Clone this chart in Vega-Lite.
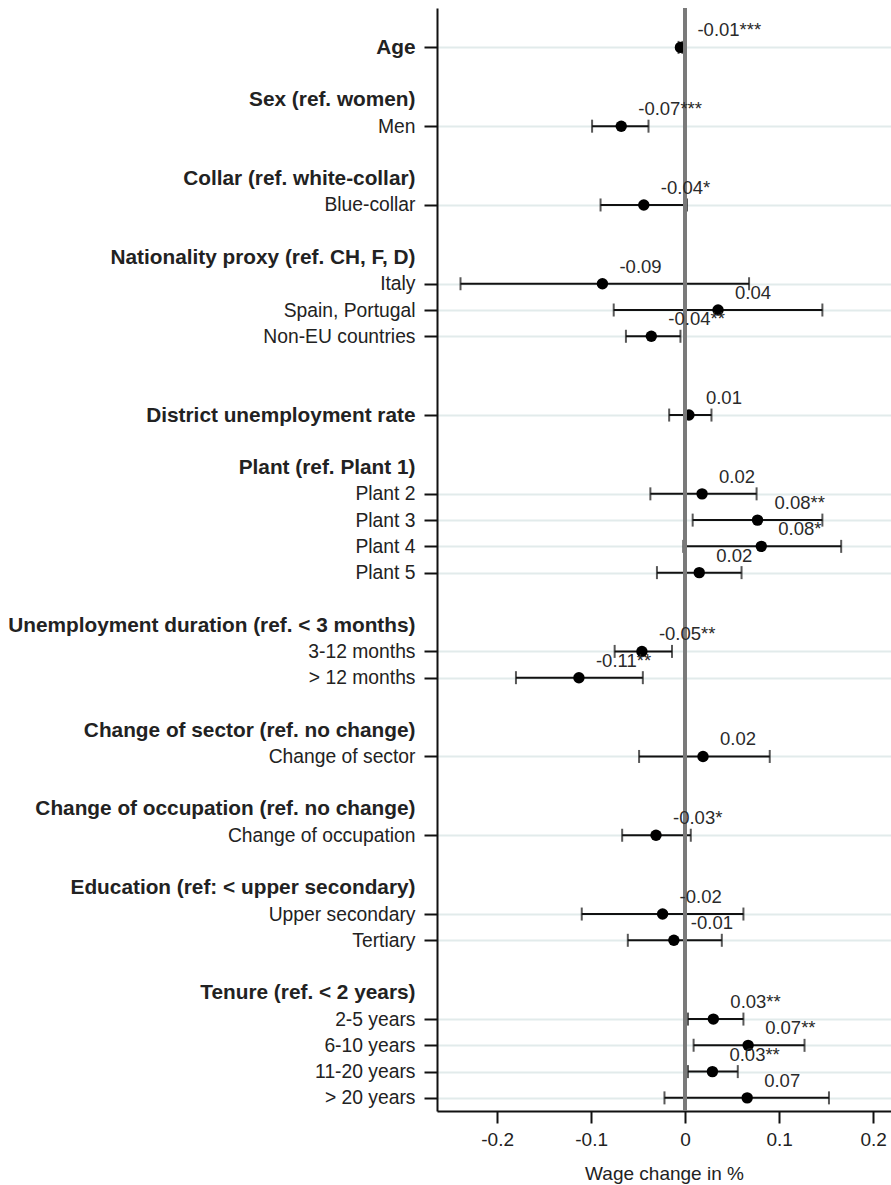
{
  "$schema": "https://vega.github.io/schema/vega-lite/v6.json",
  "autosize": "none",
  "width": 454,
  "height": 1103,
  "padding": {"left": 437, "top": 8, "right": 0, "bottom": 74},
  "background": "white",
  "config": {
    "view": {"stroke": null},
    "font": "Liberation Sans"
  },
  "data": {
    "values": [
      {"label": "Age", "est": -0.005, "lo": -0.007, "hi": -0.003, "txt": "-0.01***"},
      {"label": "Men", "est": -0.068, "lo": -0.099, "hi": -0.039, "txt": "-0.07***"},
      {"label": "Blue-collar", "est": -0.044, "lo": -0.090, "hi": 0.002, "txt": "-0.04*"},
      {"label": "Italy", "est": -0.088, "lo": -0.239, "hi": 0.068, "txt": "-0.09"},
      {"label": "Spain, Portugal", "est": 0.035, "lo": -0.076, "hi": 0.146, "txt": "0.04"},
      {"label": "Non-EU countries", "est": -0.036, "lo": -0.063, "hi": -0.005, "txt": "-0.04**"},
      {"label": "District unemployment rate", "est": 0.004, "lo": -0.017, "hi": 0.028, "txt": "0.01"},
      {"label": "Plant 2", "est": 0.018, "lo": -0.037, "hi": 0.076, "txt": "0.02"},
      {"label": "Plant 3", "est": 0.077, "lo": 0.008, "hi": 0.146, "txt": "0.08**"},
      {"label": "Plant 4", "est": 0.081, "lo": -0.002, "hi": 0.166, "txt": "0.08*"},
      {"label": "Plant 5", "est": 0.015, "lo": -0.030, "hi": 0.060, "txt": "0.02"},
      {"label": "3-12 months", "est": -0.046, "lo": -0.075, "hi": -0.014, "txt": "-0.05**"},
      {"label": "> 12 months", "est": -0.113, "lo": -0.180, "hi": -0.045, "txt": "-0.11**"},
      {"label": "Change of sector", "est": 0.019, "lo": -0.049, "hi": 0.090, "txt": "0.02"},
      {"label": "Change of occupation", "est": -0.031, "lo": -0.067, "hi": 0.006, "txt": "-0.03*"},
      {"label": "Upper secondary", "est": -0.024, "lo": -0.110, "hi": 0.062, "txt": "-0.02"},
      {"label": "Tertiary", "est": -0.012, "lo": -0.061, "hi": 0.039, "txt": "-0.01"},
      {"label": "2-5 years", "est": 0.030, "lo": 0.003, "hi": 0.062, "txt": "0.03**"},
      {"label": "6-10 years", "est": 0.067, "lo": 0.009, "hi": 0.127, "txt": "0.07**"},
      {"label": "11-20 years", "est": 0.029, "lo": 0.003, "hi": 0.056, "txt": "0.03**"},
      {"label": "> 20 years", "est": 0.066, "lo": -0.022, "hi": 0.153, "txt": "0.07"}
    ]
  },
  "layer": [
    {
      "mark": {"type": "rule", "color": "#111111", "strokeWidth": 2},
      "encoding": {
        "x": {
          "field": "lo", "type": "quantitative",
          "scale": {"domain": [-0.264, 0.219], "nice": false, "zero": false},
          "axis": {
            "values": [-0.2, -0.1, 0, 0.1, 0.2],
            "labelExpr": "datum.value === 0 ? '0' : '' + datum.value",
            "title": "Wage change in %",
            "grid": false,
            "domainColor": "#111111", "domainWidth": 2,
            "tickColor": "#111111", "tickWidth": 2, "tickSize": 12,
            "labelFont": "Liberation Sans", "labelFontSize": 19, "labelColor": "#222222", "labelPadding": 7,
            "titleFont": "Liberation Sans", "titleFontSize": 19, "titleFontWeight": "normal", "titleColor": "#222222", "titlePadding": 15
          }
        },
        "x2": {"field": "hi"},
        "y": {
          "field": "label", "type": "nominal",
          "scale": {
            "type": "point", "padding": 0.5,
            "domain": ["_b0", "Age", "_b1", "Sex (ref. women)", "Men", "_b2", "Collar (ref. white-collar)", "Blue-collar", "_b3", "Nationality proxy (ref. CH, F, D)", "Italy", "Spain, Portugal", "Non-EU countries", "_b4", "_b5", "District unemployment rate", "_b6", "Plant (ref. Plant 1)", "Plant 2", "Plant 3", "Plant 4", "Plant 5", "_b7", "Unemployment duration (ref. < 3 months)", "3-12 months", "> 12 months", "_b8", "Change of sector (ref. no change)", "Change of sector", "_b9", "Change of occupation (ref. no change)", "Change of occupation", "_b10", "Education (ref: < upper secondary)", "Upper secondary", "Tertiary", "_b11", "Tenure (ref. < 2 years)", "2-5 years", "6-10 years", "11-20 years", "> 20 years"]
          },
          "axis": {
            "title": null,
            "labelExpr": "indexof(datum.value, '_b') === 0 ? '' : datum.value",
            "labelLimit": 0,
            "labelFont": "Liberation Sans", "labelColor": "#222222", "labelPadding": 9,
            "labelFontSize": {"condition": {"test": "indexof(['Age', 'District unemployment rate', 'Sex (ref. women)', 'Collar (ref. white-collar)', 'Nationality proxy (ref. CH, F, D)', 'Plant (ref. Plant 1)', 'Unemployment duration (ref. < 3 months)', 'Change of sector (ref. no change)', 'Change of occupation (ref. no change)', 'Education (ref: < upper secondary)', 'Tenure (ref. < 2 years)'], datum.value) >= 0", "value": 20.8}, "value": 19.3},
            "labelFontWeight": {"condition": {"test": "indexof(['Age', 'District unemployment rate', 'Sex (ref. women)', 'Collar (ref. white-collar)', 'Nationality proxy (ref. CH, F, D)', 'Plant (ref. Plant 1)', 'Unemployment duration (ref. < 3 months)', 'Change of sector (ref. no change)', 'Change of occupation (ref. no change)', 'Education (ref: < upper secondary)', 'Tenure (ref. < 2 years)'], datum.value) >= 0", "value": "bold"}, "value": "normal"},
            "domainColor": "#111111", "domainWidth": 2,
            "tickColor": "#111111", "tickWidth": 2, "tickSize": 13,
            "tickOpacity": {"condition": {"test": "indexof(['Age', 'Men', 'Blue-collar', 'Italy', 'Spain, Portugal', 'Non-EU countries', 'District unemployment rate', 'Plant 2', 'Plant 3', 'Plant 4', 'Plant 5', '3-12 months', '> 12 months', 'Change of sector', 'Change of occupation', 'Upper secondary', 'Tertiary', '2-5 years', '6-10 years', '11-20 years', '> 20 years'], datum.value) >= 0", "value": 1}, "value": 0},
            "grid": true, "gridColor": "#e2ebeb", "gridWidth": 2,
            "gridOpacity": {"condition": {"test": "indexof(['Age', 'Men', 'Blue-collar', 'Italy', 'Spain, Portugal', 'Non-EU countries', 'District unemployment rate', 'Plant 2', 'Plant 3', 'Plant 4', 'Plant 5', '3-12 months', '> 12 months', 'Change of sector', 'Change of occupation', 'Upper secondary', 'Tertiary', '2-5 years', '6-10 years', '11-20 years', '> 20 years'], datum.value) >= 0", "value": 1}, "value": 0}
          }
        }
      }
    },
    {
      "mark": {"type": "tick", "color": "#111111", "size": 13, "thickness": 2},
      "encoding": {
        "x": {"field": "lo", "type": "quantitative"},
        "y": {"field": "label", "type": "nominal"}
      }
    },
    {
      "mark": {"type": "tick", "color": "#111111", "size": 13, "thickness": 2},
      "encoding": {
        "x": {"field": "hi", "type": "quantitative"},
        "y": {"field": "label", "type": "nominal"}
      }
    },
    {
      "mark": {"type": "point", "filled": true, "color": "#000000", "opacity": 1, "size": 130},
      "encoding": {
        "x": {"field": "est", "type": "quantitative"},
        "y": {"field": "label", "type": "nominal"}
      }
    },
    {
      "mark": {"type": "rule", "color": "#7a7a7a", "strokeWidth": 3},
      "encoding": {"x": {"datum": 0}}
    },
    {
      "mark": {"type": "text", "align": "left", "baseline": "middle", "dx": 17, "dy": -17, "fontSize": 18.5, "font": "Liberation Sans", "color": "#2a2a2a"},
      "encoding": {
        "x": {"field": "est", "type": "quantitative"},
        "y": {"field": "label", "type": "nominal"},
        "text": {"field": "txt"}
      }
    }
  ]
}
